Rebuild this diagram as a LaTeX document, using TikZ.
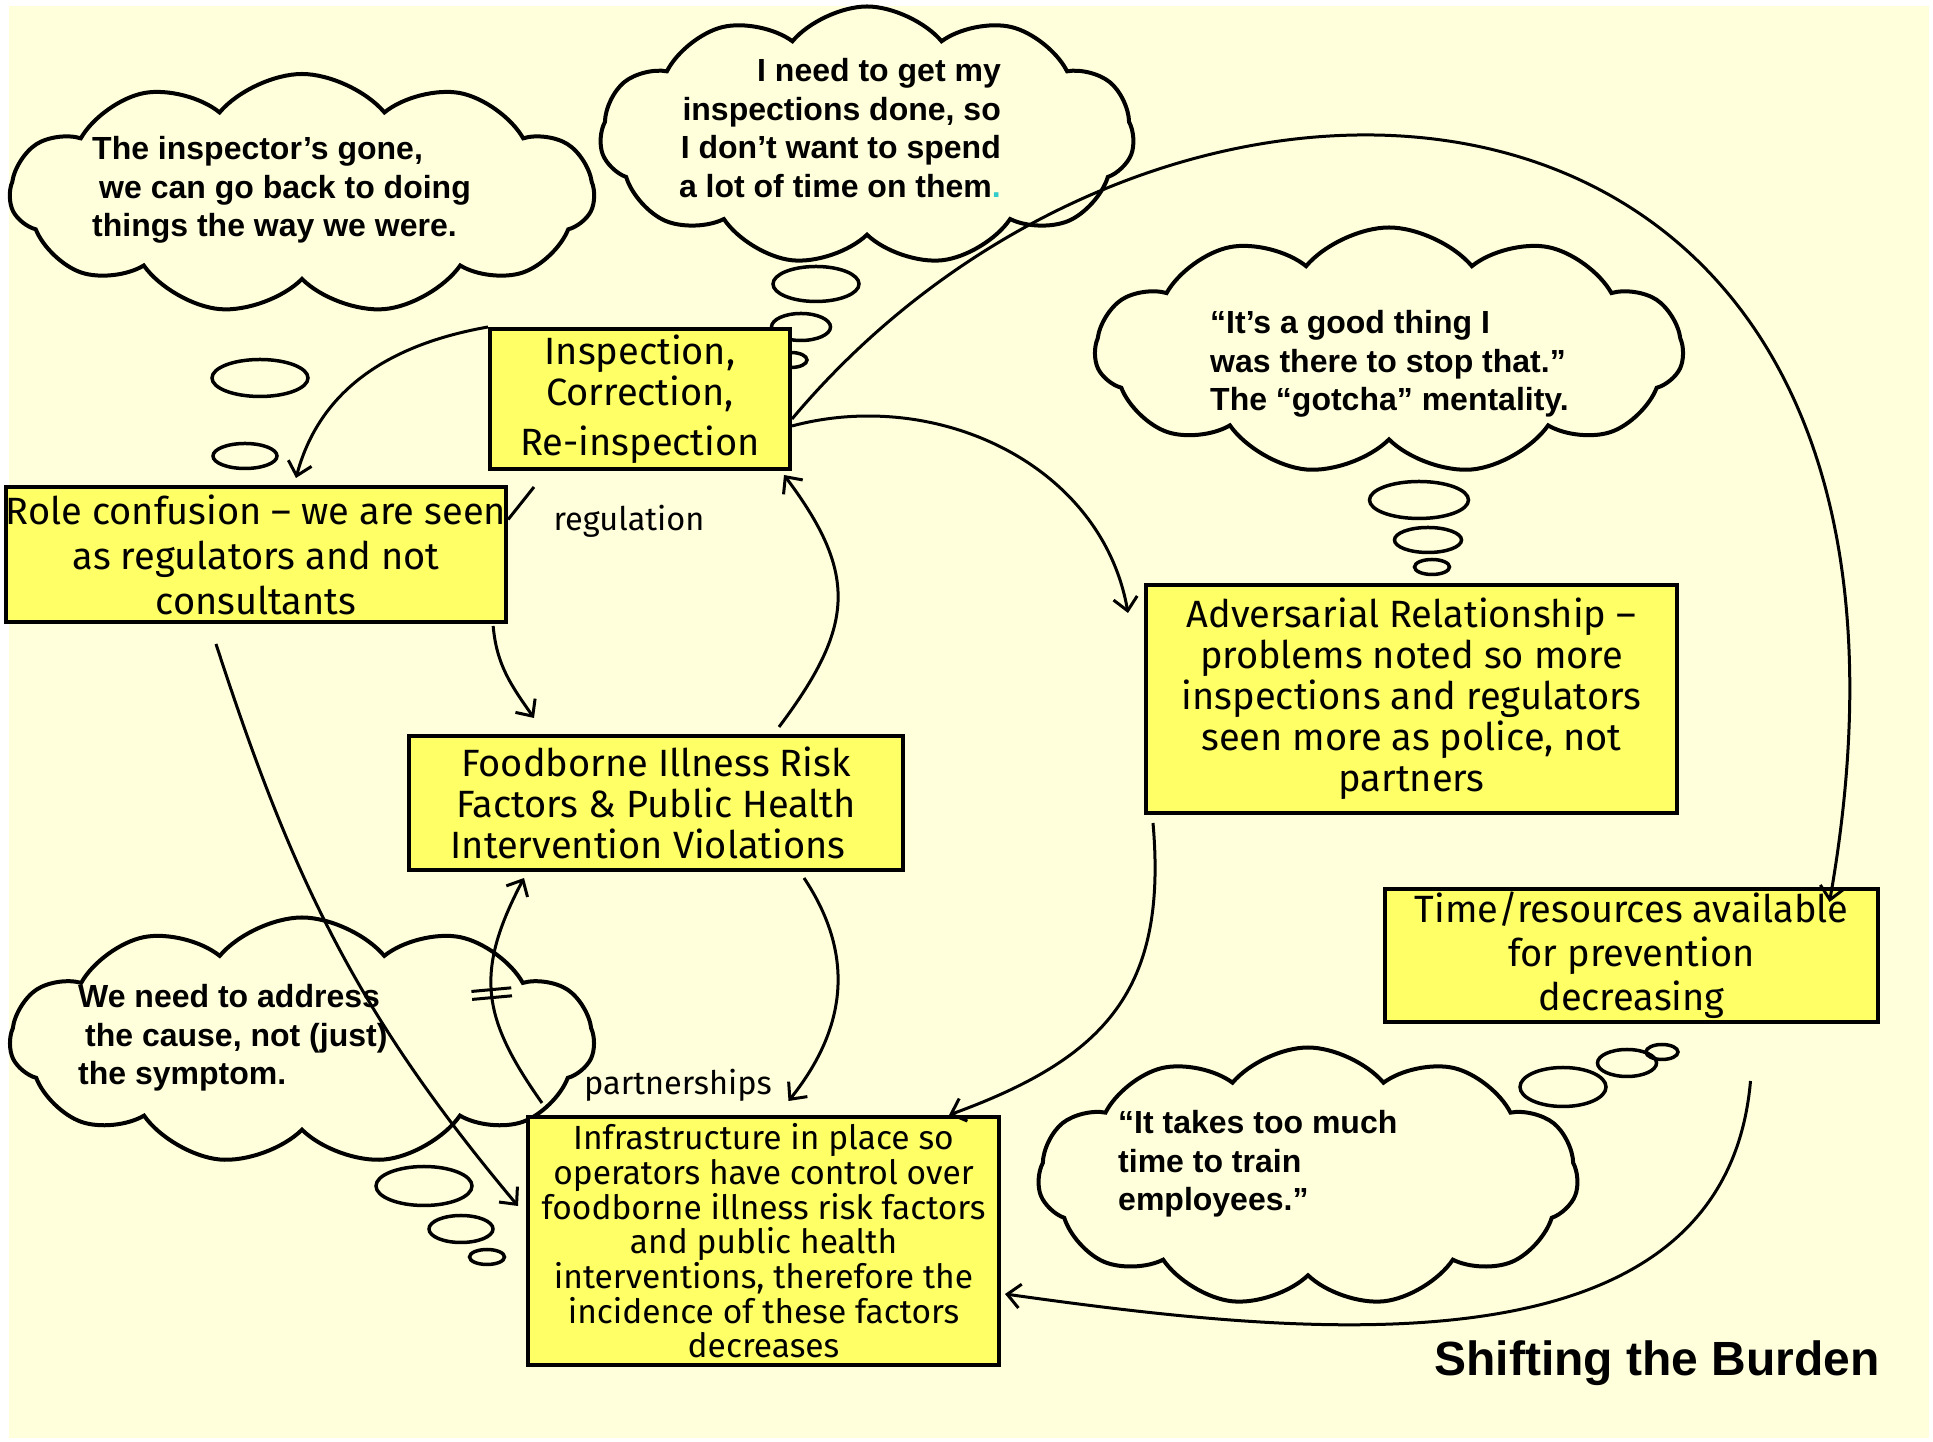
\documentclass[tikz,border=0pt]{standalone}
\usepackage{fontspec}
\setmainfont{Fira Sans}
\newfontfamily\thinkfont{Liberation Sans}
\usetikzlibrary{arrows.meta,positioning,shapes.geometric,shapes.symbols,decorations.markings}
\definecolor{bgcream}{HTML}{FFFFDC}
\definecolor{boxyellow}{HTML}{FFFF66}
\definecolor{dotcyan}{HTML}{33CCCC}
\newcommand\bxfont{\fontsize{38}{41}\selectfont}
\newcommand\smbxfont{\fontsize{33.5}{34.7}\selectfont}
\newcommand\saysfont{\thinkfont\bfseries\fontsize{32}{38.5}\selectfont}
\tikzset{
  box/.style={draw,line width=4pt,fill=boxyellow,align=center,inner sep=0pt,font=\bxfont},
  cloudy/.style={cloud,draw,line width=4pt,cloud puffs=11,cloud puff arc=100,
    cloud ignores aspect,inner sep=0pt},
  bub/.style={ellipse,draw,line width=3.5pt,inner sep=0pt},
  says/.style={align=left,inner sep=0pt,font=\saysfont},
  arr/.style={line width=3pt,-{Straight Barb[length=13pt,width=24pt]}},
  lbl/.style={inner sep=0pt,font=\fontsize{32.5}{36}\selectfont},
  delaymark/.style={postaction={decorate},decoration={markings,
    mark=at position 0.5 with {\draw[-,line width=3pt] (-4pt,-20pt) -- (-4pt,20pt) (4pt,-20pt) -- (4pt,20pt);}}},
}
\begin{document}
\begin{tikzpicture}[x=1pt,y=1pt]
  \fill[bgcream] (9,4) rectangle (1929,1436);
  \useasboundingbox (0,0) rectangle (1933,1442);

  % thought clouds
  \node[cloudy,minimum width=584pt,minimum height=240pt] (cgone) at (302,1248) {};
  \node[cloudy,minimum width=534pt,minimum height=259pt] (cdone) at (867,1306) {};
  \node[cloudy,minimum width=588pt,minimum height=247pt] (cgood) at (1389,1091) {};
  \node[cloudy,minimum width=584pt,minimum height=247pt] (ccause) at (302,401) {};
  \node[cloudy,minimum width=540pt,minimum height=259pt] (ctrain) at (1308,265) {};

  \node[says,anchor=west] (tgone) at (92,1252) {The inspector’s gone,\\ \hspace*{7pt}we can go back to doing\\ things the way we were.};
  \node[says,align=right,anchor=east] (tdone) at (1001,1314) {I need to get my\\ inspections done, so\\ I don’t want to spend\\ a lot of time on them{\color{dotcyan}.}};
  \node[says,anchor=west] (tgood) at (1210,1078) {“It’s a good thing I\\ was there to stop that.”\\ The “gotcha” mentality.};
  \node[says,anchor=west] (tcause) at (78,404) {We need to address\\ \hspace*{7pt}the cause, not (just)\\ the symptom.};
  \node[says,anchor=west] (ttrain) at (1118,278) {“It takes too much\\ time to train\\ employees.”};

  % bubbles
  \node[bub,minimum width=96pt,minimum height=37pt] (bgone1) at (260,1064) {};
  \node[bub,minimum width=64pt,minimum height=25pt] (bgone2) at (245,986) {};
  \node[bub,minimum width=86pt,minimum height=35pt] (bdone1) at (816,1158) {};
  \node[bub,minimum width=59pt,minimum height=27pt] (bdone2) at (801,1115) {};
  \node[bub,minimum width=32pt,minimum height=15pt] (bdone3) at (791,1082) {};
  \node[bub,minimum width=99pt,minimum height=37pt] (bgood1) at (1419,942) {};
  \node[bub,minimum width=67pt,minimum height=25pt] (bgood2) at (1428,902) {};
  \node[bub,minimum width=35pt,minimum height=15pt] (bgood3) at (1432,875) {};
  \node[bub,minimum width=96pt,minimum height=39pt] (bcause1) at (424,256) {};
  \node[bub,minimum width=64pt,minimum height=27pt] (bcause2) at (461,213) {};
  \node[bub,minimum width=35pt,minimum height=15pt] (bcause3) at (487,185) {};
  \node[bub,minimum width=86pt,minimum height=39pt] (btrain1) at (1563,355) {};
  \node[bub,minimum width=59pt,minimum height=27pt] (btrain2) at (1627,379) {};
  \node[bub,minimum width=32pt,minimum height=15pt] (btrain3) at (1662,390) {};

  % boxes
  \node[box,minimum width=300pt,minimum height=140pt] (insp) at (640,1043)
    {Inspection,\\ Correction,\\[9pt] Re-inspection};
  \node[box,minimum width=492pt,minimum height=135pt,font=\fontsize{38}{45}\selectfont] (role) at (256,887.5)
    {Role confusion – we are seen\\ as regulators and not\\ consultants};
  \node[box,minimum width=494pt,minimum height=134pt] (food) at (656,639)
    {Foodborne Illness Risk\\ Factors \& Public Health\\ Intervention Violations\hspace*{16pt}};
  \node[box,minimum width=531pt,minimum height=228pt] (adv) at (1411.5,743)
    {Adversarial Relationship –\\ problems noted so more\\ inspections and regulators\\ seen more as police, not\\ partners};
  \node[box,minimum width=493pt,minimum height=133pt,font=\fontsize{38}{44}\selectfont] (time) at (1631.5,486.5)
    {Time/resources available\\ for prevention\\ decreasing};
  \node[box,minimum width=471pt,minimum height=248pt,font=\smbxfont] (infra) at (763.5,201)
    {Infrastructure in place so\\ operators have control over\\ foodborne illness risk factors\\ and public health\\ interventions, therefore the\\ incidence of these factors\\ decreases};

  \node[lbl] (reg) at (629,921) {regulation};
  \node[lbl] (part) at (678,357) {partnerships};
  \node[anchor=base east,inner sep=0pt,font=\thinkfont\bfseries\fontsize{48}{52}\selectfont] (title) at (1880,66) {Shifting the Burden};

  % links
  \coordinate (regend) at (534,955);
  \draw[arr] (insp.north west) to[out=190,in=75] ([xshift=40pt,yshift=7pt]role.north);
  \draw[line width=3pt] (regend) -- ([yshift=35pt]role.east);
  \draw[arr] ([xshift=-15pt,yshift=-2pt]role.south east) to[out=-85,in=125] ([xshift=-122pt,yshift=16pt]food.north);
  \draw[arr] ([xshift=123pt,yshift=7pt]food.north) .. controls +(75,100) and +(75,-100) .. ([xshift=-8pt,yshift=-4pt]insp.south east);
  \draw[arr] ([yshift=-27pt]insp.east) to[out=15,in=100] ([xshift=-16pt,yshift=-30pt]adv.north west);
  \draw[arr] ([yshift=-20pt]insp.east) .. controls +(50:600) and +(80:900) .. ([xshift=198pt,yshift=-15pt]time.north);
  \draw[arr] ([xshift=9pt,yshift=-8pt]adv.south west) to[out=-85,in=20,looseness=1.2] ([xshift=-52pt]infra.north east);
  \draw[arr] ([xshift=148pt,yshift=-6pt]food.south) .. controls +(50,-75) and +(60,75) .. ([xshift=25pt,yshift=14pt]infra.north);
  \draw[arr,delaymark] ([xshift=16pt,yshift=12pt]infra.north west) .. controls +(-60,85) and +(-50,-95) .. ([xshift=117pt,yshift=-6pt]food.south west);
  \draw[arr] ([xshift=-40pt,yshift=-20pt]role.south) to[out=-72,in=130] ([xshift=-8pt,yshift=35pt]infra.west);
  \draw[arr] ([xshift=119pt,yshift=-57pt]time.south) to[out=-95,in=-8] ([xshift=4pt,yshift=-53pt]infra.east);
\end{tikzpicture}
\end{document}
